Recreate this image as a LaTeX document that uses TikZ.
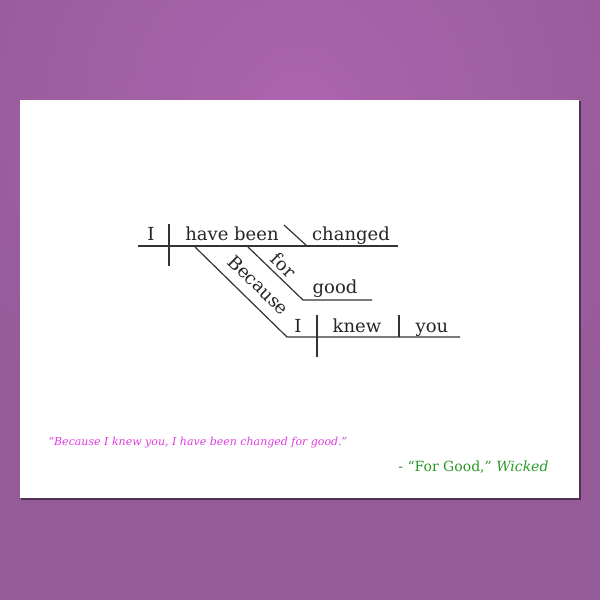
\documentclass[tikz,border=0pt]{standalone}
\usepackage{fontspec}
\setmainfont{DejaVu Serif}
\definecolor{bgpurple}{HTML}{955A98}
\definecolor{bglight}{HTML}{AC64AE}
\definecolor{quotepink}{HTML}{E03CE0}
\definecolor{songgreen}{HTML}{2A9A2A}
\begin{document}
\begin{tikzpicture}[x=1pt,y=-1pt]
	\tikzstyle{word}=[inner sep=0pt,anchor=base,font=\fontsize{18}{21}\selectfont,text=black!85]
	\tikzstyle{slant}=[inner sep=0pt,font=\fontsize{18}{21}\selectfont,text=black!85,sloped,above=4pt]
	\tikzstyle{edge}=[draw=black!80, line width=1.2pt]

	% background and card
	\useasboundingbox (0,0) rectangle (600,600);
	\fill[bgpurple] (0,0) rectangle (600,600);
	\begin{scope}
		\clip (0,0) rectangle (600,600);
		\shade[inner color=bglight,outer color=bgpurple] (300,110) circle (400);
	\end{scope}
	\fill[black!45!bgpurple] (21,101) rectangle (581,500);
	\fill[white] (20,100) rectangle (579,498);

	% main clause
	\coordinate (mainL) at (138,246);
	\coordinate (mainR) at (398,246);
	\coordinate (subjT) at (169,224);
	\coordinate (subjB) at (169,266);
	\coordinate (slashT) at (284,225);
	\coordinate (slashB) at (307,246);
	\node [word] (I1) at (151,240) {I};
	\node [word] (verb1) at (232,240) {have been};
	\node [word] (changed) at (351,240) {changed};
	\path[edge] (mainL) -- (mainR);
	\path[edge] (subjT) -- (subjB);
	\path[edge] (slashT) -- (slashB);

	% for good
	\coordinate (forT) at (248,247);
	\coordinate (forB) at (303,300);
	\coordinate (goodR) at (372,300);
	\node [word] (good) at (335,293) {good};
	\path[edge] (forT) -- node[slant] (for) {for} (forB) -- (goodR);

	% because clause
	\coordinate (becT) at (195,247);
	\coordinate (becB) at (287,337);
	\coordinate (subR) at (460,337);
	\coordinate (sub1T) at (317,315);
	\coordinate (sub1B) at (317,357);
	\coordinate (sub2T) at (399,315);
	\coordinate (sub2B) at (399,337);
	\node [word] (I2) at (298,332) {I};
	\node [word] (knew) at (357,332) {knew};
	\node [word] (you) at (432,332) {you};
	\path[edge] (becT) -- node[slant,pos=0.56,above=6pt] (because) {Because} (becB) -- (subR);
	\path[edge] (sub1T) -- (sub1B);
	\path[edge] (sub2T) -- (sub2B);

	% quote
	\node [anchor=west,text=quotepink,font=\fontsize{11}{13}\selectfont\itshape] (quote) at (45,443) {“Because I knew you, I have been changed for good.”};
	\node [anchor=east,text=songgreen,font=\fontsize{14}{16}\selectfont] (song) at (552,467) {- “For Good,”\ \textit{Wicked}};

\end{tikzpicture}
\end{document}
